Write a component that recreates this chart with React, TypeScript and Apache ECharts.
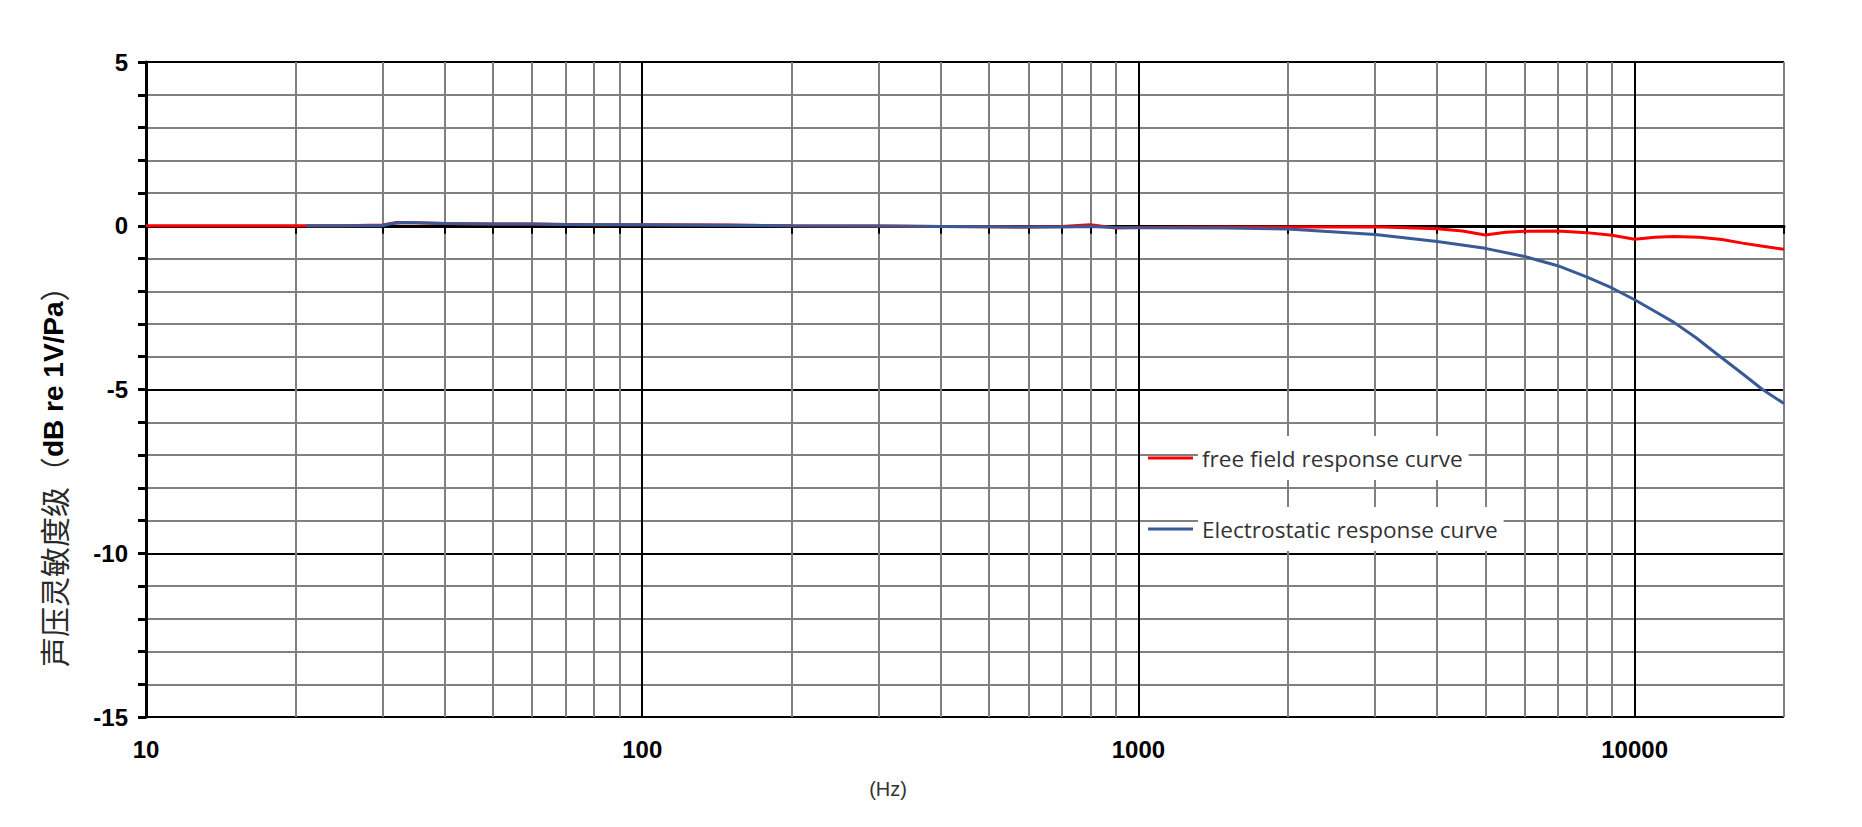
import React, { useEffect, useRef } from 'react';
import * as echarts from 'echarts';

// ---- data ----
const freeFieldFreq = [10, 20, 21, 25, 30, 32, 35, 40, 50, 60, 70, 80, 100, 150, 200, 300, 400, 500, 600, 700, 800, 900, 1000, 1500, 2000, 3000, 4000, 4500, 5000, 5500, 6000, 7000, 8000, 9000, 10000, 11000, 12000, 13500, 15000, 16500, 18000, 20000];
const freeFieldDb = [0, 0, 0, 0, 0.02, 0.1, 0.09, 0.07, 0.05, 0.05, 0.04, 0.03, 0.03, 0.02, 0.0, -0.01, -0.02, -0.03, -0.04, -0.02, 0.03, -0.07, -0.05, -0.04, -0.04, -0.03, -0.09, -0.16, -0.28, -0.2, -0.17, -0.16, -0.21, -0.29, -0.41, -0.35, -0.33, -0.35, -0.42, -0.53, -0.62, -0.72];

const electroFreq = [21, 30, 31, 33, 40, 50, 60, 70, 100, 200, 300, 400, 500, 600, 700, 800, 900, 1000, 1500, 2000, 3000, 4000, 5000, 6000, 7000, 8000, 9000, 10000, 11000, 12000, 13300, 14600, 16500, 18100, 20000];
const electroDb = [0, 0, 0.06, 0.1, 0.07, 0.05, 0.05, 0.04, 0.03, 0.0, -0.01, -0.02, -0.03, -0.04, -0.04, -0.02, -0.05, -0.06, -0.07, -0.1, -0.27, -0.48, -0.69, -0.94, -1.22, -1.56, -1.9, -2.26, -2.62, -2.95, -3.42, -3.9, -4.52, -5.0, -5.43];

const gridFreqs = [10, 20, 30, 40, 50, 60, 70, 80, 90, 100, 200, 300, 400, 500, 600, 700, 800, 900, 1000, 2000, 3000, 4000, 5000, 6000, 7000, 8000, 9000, 10000, 20000];
const xLabelValues = [10, 100, 1000, 10000];
const xMin = 10;
const xMax = 20000;
const yMin = -15;
const yMax = 5;
const yInterval = 5;

const seriesNames = ['free field response curve', 'Electrostatic response curve'];
const yTitleCn = '声压灵敏度级（';
const yTitleUnit = 'dB re 1V/Pa';
const yTitleEnd = '）';
const xTitle = '(Hz)';

// ---- styles ----
const RED = '#ff0000';
const BLUE = '#3a5a96';
const GRAY = '#808080';
const BLACK = '#000000';

function pairs(xs: number[], ys: number[]) {
  return xs.map((x, i) => [x, ys[i]]);
}

export default function App() {
  const ref = useRef<HTMLDivElement>(null);

  useEffect(() => {
    if (!ref.current) return;
    const chart = echarts.init(ref.current, null, { renderer: 'svg' });
    const splitColors = gridFreqs.map((f) =>
      Math.abs(Math.log10(f) - Math.round(Math.log10(f))) < 1e-9 ? BLACK : GRAY
    );
    const labelFont = {
      fontFamily: 'Liberation Sans, Arial, sans-serif',
      fontWeight: 'bold' as const,
      fontSize: 24,
      color: BLACK,
    };
    chart.setOption({
      animation: false,
      backgroundColor: '#ffffff',
      grid: {
        left: 146,
        right: 78,
        top: 62,
        bottom: 110,
        containLabel: false,
        outerBoundsMode: 'none',
      },
      legend: {
        orient: 'vertical',
        left: 1148,
        top: 436,
        padding: 0,
        icon: 'rect',
        itemWidth: 45,
        itemHeight: 3,
        itemGap: 27,
        data: seriesNames,
        textStyle: {
          fontFamily: 'Open Sans, Noto Sans, sans-serif',
          fontSize: 22.6,
          lineHeight: 28,
          color: '#333333',
          backgroundColor: '#ffffff',
          padding: [8, 6, 8, 4],
        },
      },
      xAxis: {
        type: 'log',
        logBase: 10,
        min: xMin,
        max: xMax,
        axisLine: { show: true, lineStyle: { color: BLACK, width: 3 } },
        axisTick: {
          show: true,
          customValues: gridFreqs,
          length: 8,
          inside: false,
          lineStyle: { color: BLACK, width: 2 },
        },
        axisLabel: {
          ...labelFont,
          customValues: xLabelValues,
          margin: 20,
          formatter: (v: number) => String(Math.round(v)),
        },
        splitLine: { show: true, lineStyle: { color: splitColors, width: 2 } },
        minorTick: { show: false },
        minorSplitLine: { show: false },
      },
      yAxis: {
        type: 'value',
        min: yMin,
        max: yMax,
        interval: yInterval,
        axisLine: { show: true, lineStyle: { color: BLACK, width: 3 } },
        axisTick: { show: true, length: 8, inside: false, lineStyle: { color: BLACK, width: 3 } },
        minorTick: { show: true, splitNumber: 5, length: 8, lineStyle: { color: BLACK, width: 3 } },
        axisLabel: { ...labelFont, margin: 18 },
        splitLine: { show: true, lineStyle: { color: BLACK, width: 2 } },
        minorSplitLine: { show: true, lineStyle: { color: GRAY, width: 2 } },
      },
      graphic: [
        {
          type: 'text',
          x: 53,
          y: 667,
          rotation: Math.PI / 2,
          style: {
            text: `{a|${yTitleCn}}{b|${yTitleUnit}}{a|${yTitleEnd}}`,
            align: 'left',
            verticalAlign: 'middle',
            rich: {
              a: {
                fontFamily: 'Noto Sans CJK SC, sans-serif',
                fontSize: 30,
                fontWeight: 'normal',
                fill: '#2a2a2a',
                color: '#2a2a2a',
              },
              b: {
                fontFamily: 'Liberation Sans, Arial, sans-serif',
                fontSize: 28,
                fontWeight: 'bold',
                fill: BLACK,
                color: BLACK,
              },
            },
          },
        },
        {
          type: 'text',
          x: 888,
          y: 789,
          style: {
            text: xTitle,
            align: 'center',
            verticalAlign: 'middle',
            fontFamily: 'Liberation Sans, Arial, sans-serif',
            fontSize: 20,
            fill: '#333333',
          },
        },
      ],
      series: [
        {
          name: seriesNames[0],
          type: 'line',
          data: pairs(freeFieldFreq, freeFieldDb),
          symbol: 'none',
          smooth: false,
          lineStyle: { color: RED, width: 3 },
          itemStyle: { color: RED },
          z: 3,
        },
        {
          name: seriesNames[1],
          type: 'line',
          data: pairs(electroFreq, electroDb),
          symbol: 'none',
          smooth: false,
          lineStyle: { color: BLUE, width: 3 },
          itemStyle: { color: BLUE },
          z: 4,
        },
      ],
    });
    return () => chart.dispose();
  }, []);

  return (
    <div
      ref={ref}
      style={{ position: 'absolute', left: 0, top: 0, width: 1862, height: 827 }}
    />
  );
}
